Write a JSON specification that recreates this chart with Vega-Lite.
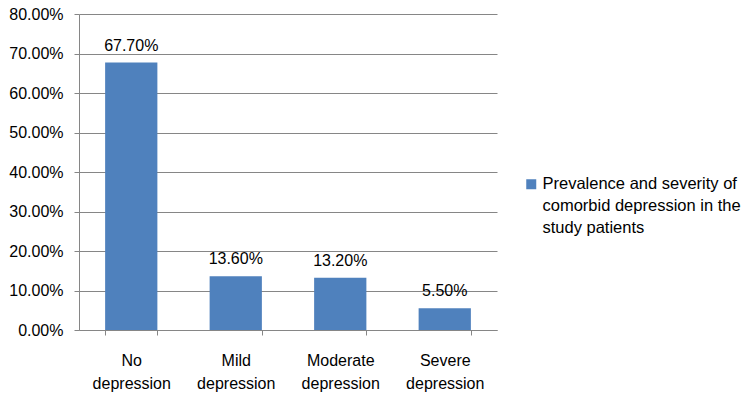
{
  "$schema": "https://vega.github.io/schema/vega-lite/v6.json",
  "width": 418,
  "height": 316,
  "autosize": "none",
  "padding": {"left": 79, "top": 14, "right": 253, "bottom": 67},
  "background": "white",
  "config": {
    "view": {"stroke": null},
    "font": "Liberation Sans"
  },
  "data": {
    "values": [
      {"category": "No depression", "value": 0.677, "series": "Prevalence and severity of comorbid depression in the study patients"},
      {"category": "Mild depression", "value": 0.136, "series": "Prevalence and severity of comorbid depression in the study patients"},
      {"category": "Moderate depression", "value": 0.132, "series": "Prevalence and severity of comorbid depression in the study patients"},
      {"category": "Severe depression", "value": 0.055, "series": "Prevalence and severity of comorbid depression in the study patients"}
    ]
  },
  "encoding": {
    "x": {
      "field": "category",
      "type": "nominal",
      "sort": null,
      "scale": {"paddingInner": 0.5, "paddingOuter": 0.25},
      "axis": {
        "title": null,
        "labelAngle": 0,
        "labelExpr": "split(datum.label, ' ')",
        "labelLineHeight": 23,
        "labelFontSize": 16,
        "labelColor": "#000000",
        "labelPadding": 17,
        "labelBaseline": "top",
        "tickBand": "extent",
        "tickSize": 5,
        "tickColor": "#868686",
        "domainColor": "#868686",
        "labelFont": "Liberation Sans"
      }
    },
    "y": {
      "field": "value",
      "type": "quantitative",
      "scale": {"domain": [0, 0.8]},
      "axis": {
        "title": null,
        "format": ".2%",
        "values": [0, 0.1, 0.2, 0.3, 0.4, 0.5, 0.6, 0.7, 0.8],
        "labelFontSize": 16,
        "labelColor": "#000000",
        "labelPadding": 11,
        "tickSize": 5,
        "tickColor": "#868686",
        "domainColor": "#868686",
        "gridColor": "#868686",
        "gridOpacity": 1,
        "labelFont": "Liberation Sans"
      }
    }
  },
  "layer": [
    {
      "mark": {"type": "bar", "color": "#4F81BD"},
      "encoding": {
        "color": {
          "field": "series",
          "type": "nominal",
          "scale": {"range": ["#4F81BD"]},
          "legend": {
            "title": null,
            "orient": "none",
            "legendX": 444,
            "legendY": 162,
            "symbolType": "square",
            "symbolSize": 100,
            "symbolStrokeWidth": 0,
            "symbolOpacity": 1,
            "labelOffset": 3,
            "labelFontSize": 16.5,
            "labelColor": "#000000",
            "labelLimit": 300,
            "labelFont": "Liberation Sans",
            "labelBaseline": "middle",
            "labelExpr": "['Prevalence and severity of', 'comorbid depression in the', 'study patients']",
            "encode": {"labels": {"update": {"lineHeight": {"value": 22}}}}
          }
        }
      }
    },
    {
      "mark": {"type": "text", "baseline": "bottom", "dy": -9, "fontSize": 16, "color": "#000000", "font": "Liberation Sans"},
      "encoding": {
        "text": {"field": "value", "type": "quantitative", "format": ".2%"}
      }
    }
  ]
}
